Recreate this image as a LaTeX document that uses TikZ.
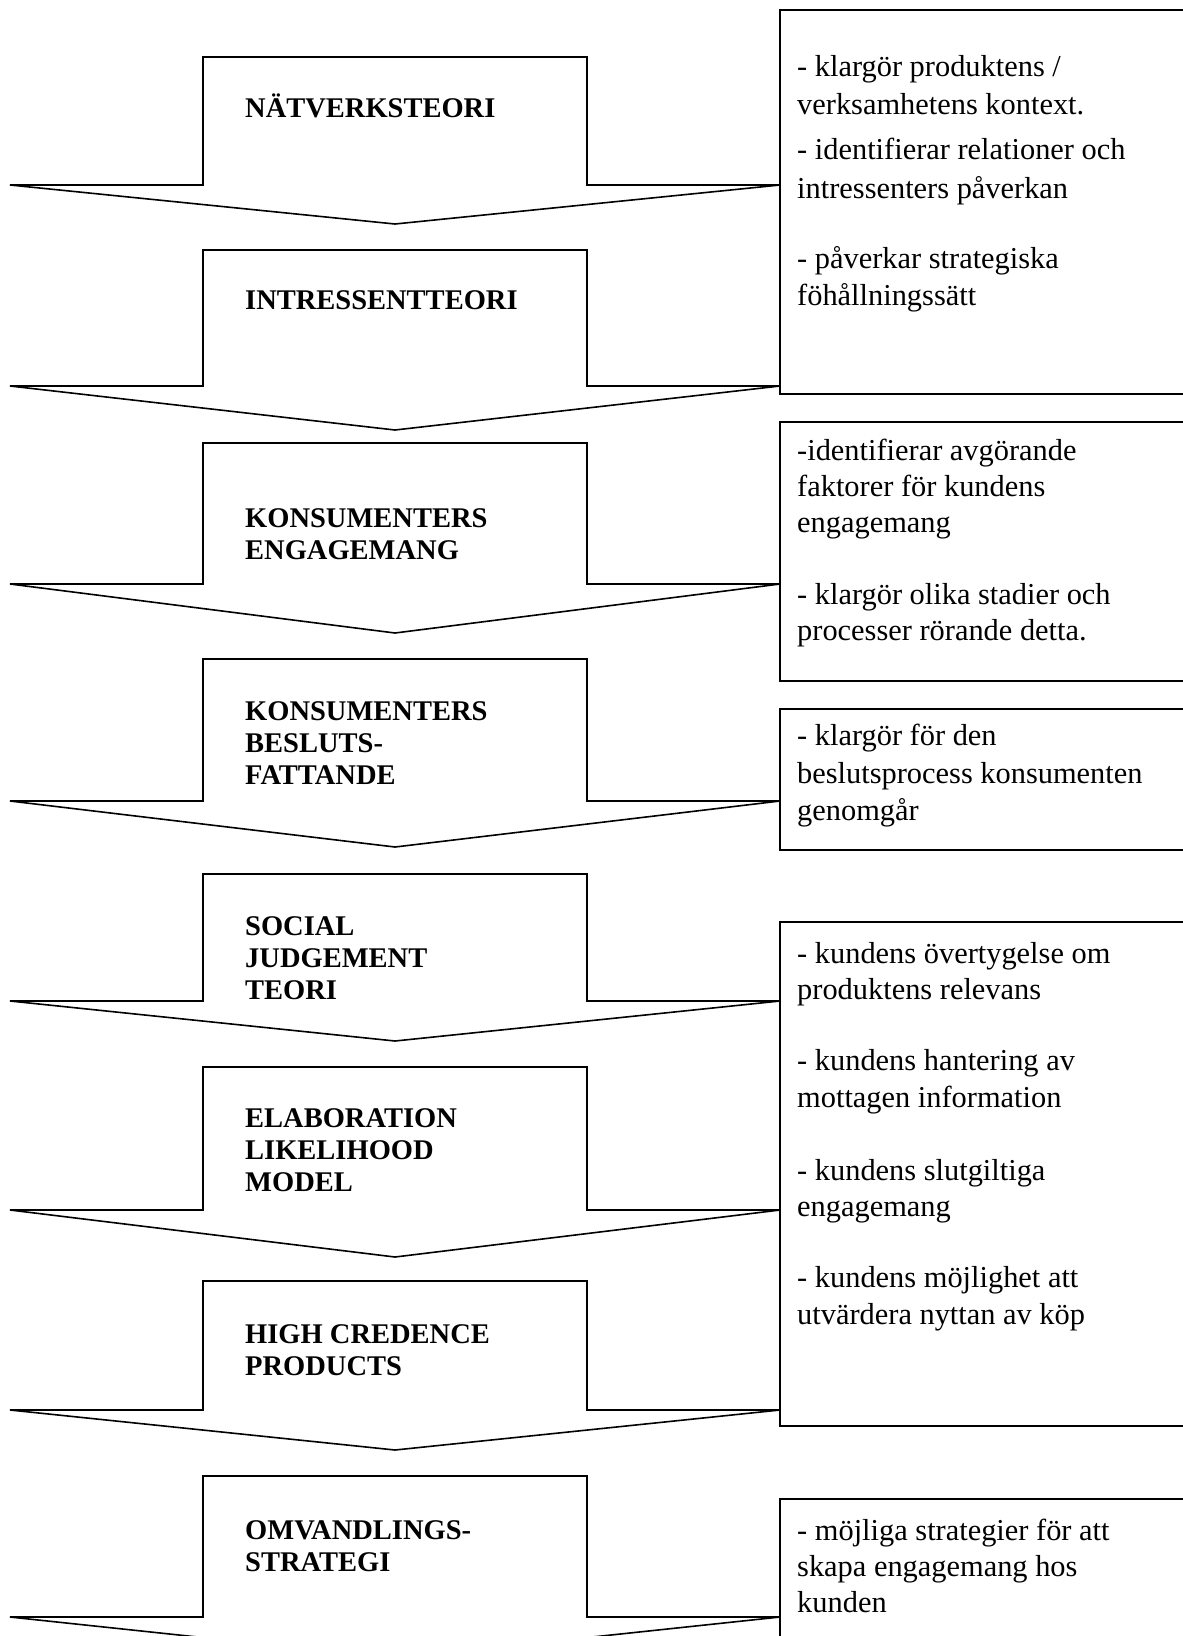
\documentclass[tikz,border=0pt]{standalone}
\usepackage{fontspec}
\setmainfont{Liberation Serif}
\tikzset{
  arrowshape/.style={draw=black, line width=1.6pt, fill=white, line join=miter},
  infobox/.style={draw=black, line width=2.2pt, fill=white},
  lbl/.style={anchor=base west, align=left, inner sep=0pt, font=\fontsize{28.5}{32}\selectfont\bfseries},
  rtxt/.style={anchor=base west, inner sep=0pt, font=\fontsize{30.4}{38}\selectfont},
}
\newcommand\flowarrow[3]{\draw[arrowshape] (203,#1) -- (587,#1) -- (587,#2) -- (780,#2) -- (395,#3) -- (10,#2) -- (203,#2) -- cycle;}
\newcommand\rline[3]{\node[rtxt] (#1) at (797,#2) {#3};}
\begin{document}
\begin{tikzpicture}[x=1pt,y=-1pt]
\useasboundingbox (0,0) rectangle (1183,1636);
% arrows
\flowarrow{57}{185}{224}
\flowarrow{250}{386}{430}
\flowarrow{443}{584}{633}
\flowarrow{659}{801}{847}
\flowarrow{874}{1001}{1041}
\flowarrow{1067}{1210}{1257}
\flowarrow{1281}{1410}{1450}
\flowarrow{1476}{1617}{1658}
% labels (anchored at the baseline of the last line)
\node[lbl] (l1) at (245,117) {NÄTVERKSTEORI};
\node[lbl] (l2) at (245,309) {INTRESSENTTEORI};
\node[lbl] (l3) at (245,559) {KONSUMENTERS\\ENGAGEMANG};
\node[lbl] (l4) at (245,784) {KONSUMENTERS\\BESLUTS-\\FATTANDE};
\node[lbl] (l5) at (245,999) {SOCIAL\\JUDGEMENT\\TEORI};
\node[lbl] (l6) at (245,1191) {ELABORATION\\LIKELIHOOD\\MODEL};
\node[lbl] (l7) at (245,1375) {HIGH CREDENCE\\PRODUCTS};
\node[lbl] (l8) at (245,1571) {OMVANDLINGS-\\STRATEGI};
% boxes
\draw[infobox] (780,10) rectangle (1200,394);
\draw[infobox] (780,422) rectangle (1200,681);
\draw[infobox] (780,709) rectangle (1200,850);
\draw[infobox] (780,922) rectangle (1200,1426);
\draw[infobox] (780,1499) rectangle (1200,1700);
% box texts
\rline{a1}{76}{- klargör produktens /}
\rline{a2}{114}{verksamhetens kontext.}
\rline{a3}{159}{- identifierar relationer och}
\rline{a4}{198}{intressenters påverkan}
\rline{a5}{268}{- påverkar strategiska}
\rline{a6}{305}{föhållningssätt}
\rline{b1}{460}{-identifierar avgörande}
\rline{b2}{496}{faktorer för kundens}
\rline{b3}{532}{engagemang}
\rline{b4}{604}{- klargör olika stadier och}
\rline{b5}{640}{processer rörande detta.}
\rline{c1}{745}{- klargör för den}
\rline{c2}{783}{beslutsprocess konsumenten}
\rline{c3}{820}{genomgår}
\rline{d1}{963}{- kundens övertygelse om}
\rline{d2}{999}{produktens relevans}
\rline{d3}{1070}{- kundens hantering av}
\rline{d4}{1107}{mottagen information}
\rline{d5}{1180}{- kundens slutgiltiga}
\rline{d6}{1216}{engagemang}
\rline{d7}{1287}{- kundens möjlighet att}
\rline{d8}{1324}{utvärdera nyttan av köp}
\rline{e1}{1540}{- möjliga strategier för att}
\rline{e2}{1576}{skapa engagemang hos}
\rline{e3}{1612}{kunden}
\end{tikzpicture}
\end{document}
